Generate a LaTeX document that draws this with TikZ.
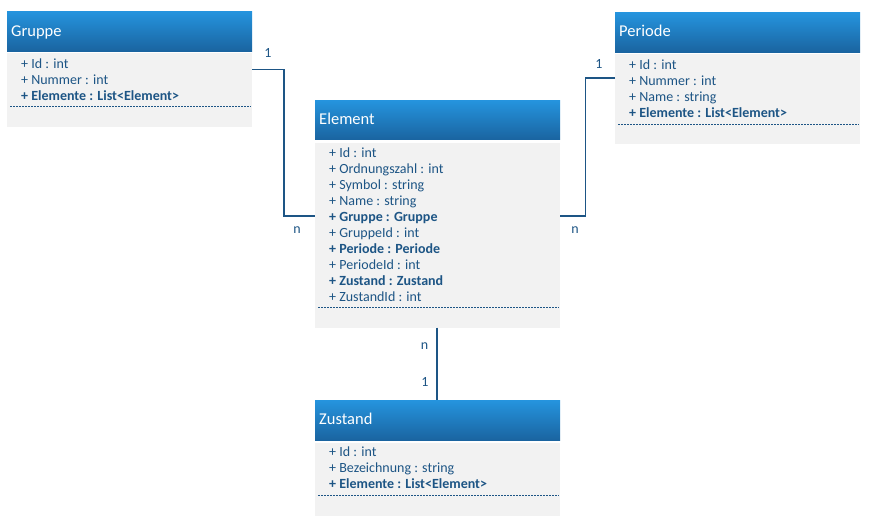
\documentclass[tikz,border=0pt]{standalone}
\usepackage{fontspec}
\setmainfont{Carlito}
\usetikzlibrary{calc}
\definecolor{hdtop}{HTML}{2594DE}
\definecolor{hdbot}{HTML}{1A64A0}
\definecolor{bodyfill}{HTML}{F2F2F2}
\definecolor{txt}{HTML}{1D5585}
\tikzset{
 header/.style={rectangle, inner sep=0, minimum width=245pt, minimum height=40pt, top color=hdtop, bottom color=hdbot, anchor=north west},
 body/.style={rectangle, inner sep=0, minimum width=245pt, fill=bodyfill, anchor=north west},
 ctitle/.style={font=\fontsize{16.5}{18}\selectfont, text=white, anchor=base west, inner sep=0},
 item/.style={font=\fontsize{14}{15}\selectfont, text=txt, anchor=base west, inner sep=0},
 dashline/.style={draw=txt, line width=0.8pt, dash pattern=on 2pt off 1pt},
 conn/.style={draw=txt, line width=1.6pt},
 mult/.style={font=\fontsize{14}{15}\selectfont, text=txt, anchor=base, inner sep=0},
}
\newcommand\classrows[4]{%
 \foreach \t [count=\i] in {#4} { \node[item] (#1-\i) at (#2, #3+16*\i-16) {\t}; }%
}
\begin{document}
\begin{tikzpicture}[x=1pt,y=-1pt]
\useasboundingbox (0,0) rectangle (870,530);
% Gruppe
\node[header] (ghead) at (7,11) {};
\node[body, minimum height=73.5pt] (gbody) at (7,53) {};
\node[ctitle] (gtitle) at (11,36) {Gruppe};
\classrows{g}{21}{68}{+ Id : int, + Nummer : int, \textbf{+ Elemente : List<Element>}}
\draw[dashline] ($(gbody.north west)+(3,53.7)$) -- ($(gbody.north east)+(-1,53.7)$);
% Element
\node[header, minimum height=39.5pt] (ehead) at (315,100) {};
\node[body, minimum height=185pt] (ebody) at (315,142.3) {};
\node[ctitle] (etitle) at (319,124.3) {Element};
\classrows{e}{329}{157}{+ Id : int, + Ordnungszahl : int, + Symbol : string, + Name : string, \textbf{+ Gruppe : Gruppe}, + GruppeId : int, \textbf{+ Periode : Periode}, + PeriodeId : int, \textbf{+ Zustand : Zustand}, + ZustandId : int}
\draw[dashline] ($(ebody.north west)+(3,164.7)$) -- ($(ebody.north east)+(-1,164.7)$);
% Periode
\node[header, minimum height=39.5pt] (phead) at (615,12.3) {};
\node[body, minimum height=89.3pt] (pbody) at (615,54) {};
\node[ctitle] (ptitle) at (619,36.7) {Periode};
\classrows{p}{629}{69.5}{+ Id : int, + Nummer : int, + Name : string, \textbf{+ Elemente : List<Element>}}
\draw[dashline] ($(pbody.north west)+(3,70)$) -- ($(pbody.north east)+(-1,70)$);
% Zustand
\node[header] (zhead) at (315,400) {};
\node[body, minimum height=73.5pt] (zbody) at (315,442.3) {};
\node[ctitle] (ztitle) at (319,424) {Zustand};
\classrows{z}{329}{456.7}{+ Id : int, + Bezeichnung : string, \textbf{+ Elemente : List<Element>}}
\draw[dashline] ($(zbody.north west)+(3,52.7)$) -- ($(zbody.north east)+(-1,52.7)$);
% connectors
\coordinate (gport) at ($(gbody.north east)+(0,16.3)$);
\coordinate (elport) at ($(ebody.north west)+(0,73.4)$);
\coordinate (erport) at ($(ebody.north east)+(0,73.4)$);
\coordinate (pport) at ($(pbody.north west)+(0,24)$);
\draw[conn] (gport) -| ($(gport)!.5!(elport)$) |- (elport);
\draw[conn] (pport) -- ++(-29.5,0) |- (erport);
\draw[conn] ($(ebody.south west)+(122,0)$) -- ($(zhead.north west)+(122,0)$);
% multiplicities
\node[mult] (m1) at (268,57.3) {1};
\node[mult] (m2) at (297,233) {n};
\node[mult] (m3) at (599,68.3) {1};
\node[mult] (m4) at (575,233) {n};
\node[mult] (m5) at (424.5,349) {n};
\node[mult] (m6) at (425,386.7) {1};
\end{tikzpicture}
\end{document}
